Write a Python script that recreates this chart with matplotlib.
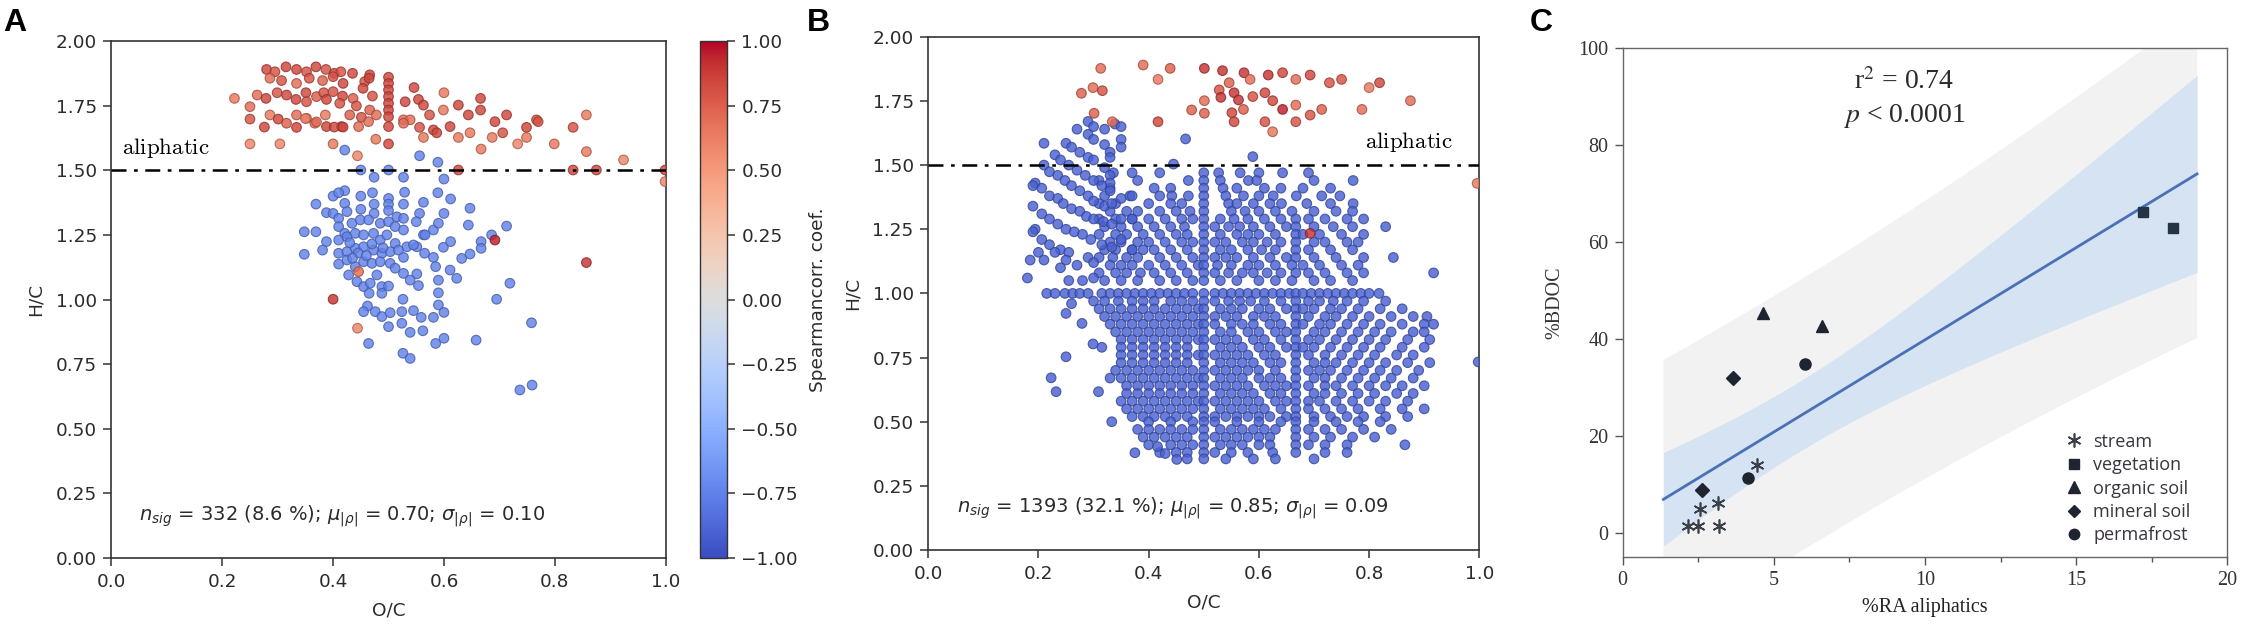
import numpy as np
import matplotlib
matplotlib.use("Agg")
import matplotlib.pyplot as plt
from matplotlib.lines import Line2D
from matplotlib.colors import Normalize
from matplotlib.ticker import MultipleLocator

# ---------------- DATA ----------------
# Panel A: significant positive correlations (O/C, H/C, rho)
a_red = [
    (0.280,1.890,.85),(0.295,1.881,.80),(0.315,1.900,.85),(0.334,1.890,.85),(0.352,1.881,.80),
    (0.369,1.900,.85),(0.387,1.890,.80),(0.402,1.875,.85),(0.414,1.881,.80),(0.435,1.875,.85),
    (0.466,1.869,.85),(0.286,1.856,.70),(0.307,1.847,.80),(0.334,1.836,.70),(0.357,1.856,.80),
    (0.381,1.847,.75),(0.400,1.862,.80),(0.418,1.836,.85),(0.457,1.843,.80),(0.465,1.856,.85),
    (0.500,1.860,.85),(0.500,1.836,.85),(0.222,1.778,.65),(0.263,1.791,.70),(0.279,1.778,.85),
    (0.299,1.800,.80),(0.316,1.791,.85),(0.333,1.774,.85),(0.351,1.800,.85),(0.352,1.765,.80),
    (0.370,1.785,.75),(0.383,1.800,.80),(0.388,1.774,.85),(0.400,1.804,.80),(0.417,1.787,.85),
    (0.412,1.759,.80),(0.436,1.778,.75),(0.442,1.749,.80),(0.454,1.817,.85),(0.471,1.787,.80),
    (0.500,1.811,.85),(0.500,1.785,.85),(0.500,1.759,.85),(0.500,1.733,.85),(0.500,1.707,.85),
    (0.530,1.765,.85),(0.546,1.820,.85),(0.554,1.774,.85),(0.563,1.752,.85),(0.600,1.800,.65),
    (0.626,1.752,.85),(0.666,1.778,.85),(0.666,1.733,.85),(0.250,1.746,.70),(0.250,1.698,.80),
    (0.286,1.714,.65),(0.301,1.698,.85),(0.334,1.714,.70),(0.352,1.701,.70),(0.466,1.733,.75),
    (0.478,1.714,.70),(0.430,1.714,.75),(0.451,1.705,.80),(0.574,1.714,.80),(0.599,1.733,.65),
    (0.644,1.714,.85),(0.713,1.714,.85),(0.857,1.714,.65),(0.767,1.695,.80),(0.527,1.695,.70),
    (0.539,1.695,.70),(0.316,1.682,.75),(0.334,1.666,.85),(0.367,1.682,.70),(0.388,1.669,.85),
    (0.415,1.669,.85),(0.446,1.669,.70),(0.464,1.688,.70),(0.500,1.669,.85),(0.527,1.682,.70),
    (0.556,1.666,.80),(0.581,1.656,.85),(0.587,1.645,.85),(0.611,1.669,.85),(0.626,1.627,.65),
    (0.647,1.645,.65),(0.692,1.688,.85),(0.706,1.645,.80),(0.749,1.666,.85),(0.749,1.627,.65),
    (0.770,1.688,.80),(0.833,1.666,.80),(0.400,1.602,.65),(0.444,1.556,.60),(0.477,1.620,.65),
    (0.500,1.602,.85),(0.563,1.627,.65),(0.667,1.582,.65),(0.687,1.627,.65),(0.733,1.602,.60),
    (0.799,1.602,.65),(0.857,1.572,.65),(0.924,1.540,.60),(0.304,1.602,.60),(0.250,1.602,.60),
    (0.626,1.501,.85),(0.833,1.501,.85),(0.875,1.501,.85),(0.999,1.501,.85),(0.999,1.456,.60),
    (0.692,1.230,.95),(0.400,1.001,.90),(0.444,0.889,.60),(0.446,1.108,.70),(0.857,1.143,.90),
    (0.276,1.667,.85),(0.350,1.700,.60),(0.370,1.687,.70),(0.386,1.714,.65),(0.402,1.667,.85),
    (0.418,1.667,.85),
]
# Panel A: significant negative correlations (O/C, H/C)
a_blue = [
    (0.421,1.578),(0.556,1.556),(0.589,1.531),(0.450,1.501),(0.500,1.501),(0.474,1.473),
    (0.527,1.473),(0.600,1.466),(0.421,1.421),(0.400,1.400),(0.410,1.413),(0.450,1.400),
    (0.471,1.413),(0.500,1.391),(0.529,1.415),(0.589,1.413),(0.612,1.389),(0.369,1.369),
    (0.421,1.372),(0.474,1.369),(0.500,1.369),(0.527,1.369),(0.563,1.376),(0.388,1.336),
    (0.400,1.333),(0.410,1.314),(0.425,1.340),(0.450,1.349),(0.474,1.333),(0.500,1.344),
    (0.515,1.320),(0.527,1.314),(0.556,1.333),(0.600,1.333),(0.647,1.353),(0.348,1.262),
    (0.369,1.262),(0.410,1.282),(0.421,1.256),(0.434,1.295),(0.449,1.308),(0.464,1.308),
    (0.485,1.295),(0.500,1.301),(0.512,1.282),(0.527,1.269),(0.550,1.301),(0.563,1.250),
    (0.581,1.269),(0.590,1.295),(0.644,1.288),(0.713,1.284),(0.388,1.224),(0.410,1.230),
    (0.425,1.243),(0.440,1.256),(0.455,1.250),(0.473,1.256),(0.485,1.230),(0.497,1.250),
    (0.512,1.217),(0.533,1.204),(0.551,1.204),(0.566,1.250),(0.599,1.202),(0.612,1.224),
    (0.667,1.224),(0.686,1.250),(0.348,1.175),(0.381,1.191),(0.410,1.179),(0.425,1.185),
    (0.440,1.198),(0.455,1.204),(0.473,1.191),(0.488,1.179),(0.503,1.185),(0.518,1.191),
    (0.527,1.163),(0.545,1.211),(0.565,1.179),(0.581,1.163),(0.632,1.159),(0.647,1.176),
    (0.667,1.198),(0.410,1.137),(0.425,1.153),(0.440,1.127),(0.455,1.146),(0.470,1.140),
    (0.485,1.146),(0.503,1.140),(0.512,1.121),(0.527,1.101),(0.551,1.099),(0.585,1.127),
    (0.611,1.114),(0.623,1.082),(0.428,1.095),(0.443,1.069),(0.455,1.050),(0.467,1.063),
    (0.479,1.095),(0.488,1.050),(0.500,1.052),(0.539,1.075),(0.554,1.054),(0.590,1.075),
    (0.719,1.063),(0.465,1.024),(0.488,1.024),(0.590,1.026),(0.526,1.001),(0.695,1.001),
    (0.462,0.975),(0.455,0.953),(0.476,0.953),(0.488,0.934),(0.503,0.949),(0.524,0.953),
    (0.545,0.957),(0.559,0.931),(0.581,0.931),(0.590,0.979),(0.600,0.950),(0.758,0.910),
    (0.500,0.895),(0.524,0.908),(0.539,0.873),(0.562,0.879),(0.464,0.830),(0.585,0.830),
    (0.600,0.850),(0.658,0.843),(0.526,0.792),(0.539,0.772),(0.737,0.650),(0.759,0.669),
    (0.430,1.220),(0.445,1.180),(0.460,1.170),(0.470,1.215),(0.435,1.160),(0.490,1.200),
]
a_blue_rho = -0.75

# Panel B: significant positive correlations (O/C, H/C, rho)
b_red = [
    (0.313,1.877,.70),(0.390,1.890,.70),(0.439,1.877,.75),(0.417,1.834,.65),(0.278,1.780,.75),
    (0.299,1.802,.70),(0.316,1.790,.80),(0.301,1.702,.75),(0.334,1.669,.70),(0.417,1.669,.85),
    (0.478,1.715,.75),(0.501,1.751,.70),(0.501,1.702,.75),(0.501,1.877,.90),(0.534,1.868,.90),
    (0.546,1.821,.75),(0.528,1.793,.80),(0.531,1.764,.90),(0.555,1.782,.90),(0.563,1.754,.90),
    (0.551,1.704,.85),(0.555,1.669,.85),(0.573,1.860,.90),(0.584,1.834,.70),(0.617,1.851,.90),
    (0.643,1.860,.85),(0.667,1.834,.70),(0.693,1.851,.85),(0.728,1.821,.80),(0.750,1.834,.80),
    (0.800,1.802,.65),(0.819,1.821,.85),(0.875,1.751,.70),(0.589,1.767,.80),(0.611,1.782,.85),
    (0.625,1.751,.85),(0.572,1.717,.75),(0.643,1.717,.95),(0.667,1.734,.70),(0.693,1.695,.80),
    (0.714,1.717,.75),(0.787,1.717,.70),(0.611,1.669,.80),(0.625,1.630,.65),(0.667,1.669,.80),
    (0.996,1.429,.65),(0.693,1.234,.90),
]
# Panel B: negative correlations, upper-left cluster and outliers (O/C, H/C)
b_blue_left = [
    (0.467,1.602),(0.445,1.504),(0.589,1.533),(0.339,1.660),
    (0.290,1.670),(0.300,1.650),(0.320,1.640),(0.350,1.650),(0.270,1.640),(0.290,1.620),
    (0.300,1.600),(0.320,1.580),(0.330,1.550),(0.350,1.600),(0.350,1.570),(0.330,1.530),
    (0.210,1.585),(0.250,1.585),(0.260,1.570),(0.275,1.550),(0.290,1.530),(0.300,1.520),
    (0.320,1.490),(0.330,1.460),(0.330,1.430),(0.230,1.540),(0.240,1.520),(0.255,1.500),
    (0.270,1.480),(0.285,1.460),(0.300,1.440),(0.315,1.420),(0.330,1.400),(0.210,1.500),
    (0.220,1.474),(0.235,1.460),(0.248,1.440),(0.260,1.420),(0.275,1.400),(0.290,1.380),
    (0.300,1.360),(0.320,1.340),(0.333,1.350),(0.350,1.370),(0.370,1.380),(0.194,1.430),
    (0.206,1.410),(0.220,1.380),(0.235,1.370),(0.245,1.350),(0.260,1.330),(0.275,1.320),
    (0.287,1.300),(0.300,1.290),(0.318,1.280),(0.333,1.270),(0.350,1.290),(0.370,1.290),
    (0.190,1.340),(0.206,1.310),(0.220,1.290),(0.235,1.270),(0.250,1.250),(0.265,1.240),
    (0.280,1.230),(0.295,1.210),(0.315,1.190),(0.333,1.180),(0.350,1.210),(0.370,1.170),
    (0.194,1.250),(0.206,1.210),(0.220,1.190),(0.240,1.170),(0.255,1.160),(0.200,1.160),
    (0.210,1.130),(0.185,1.130),(0.190,1.240),(0.190,1.420),(0.180,1.060),(0.230,1.160),
    (0.250,1.130),(0.270,1.110),(0.290,1.140),(0.300,1.120),(0.255,1.050),(0.280,1.050),
    (0.300,1.060),(0.240,1.100),(0.260,0.960),(0.250,0.922),(0.279,0.883),(0.299,0.803),
    (0.250,0.753),(0.223,0.671),(0.232,0.617),(0.309,0.617),(0.333,0.500),(0.375,0.379),
    (0.416,0.403),(0.451,0.353),(0.430,0.376),(0.998,0.733),
]
# Panel B: negative correlations, main body, rows of (H/C, [O/C ...])
b_blue_rows = [
    (1.47, [0.336,0.37,0.42,0.50,0.527,0.566,0.60,0.643,0.69]),
    (1.44, [0.31,0.38,0.472,0.50,0.53,0.581,0.596,0.70,0.771]),
    (1.41, [0.33,0.41,0.44,0.50,0.535,0.56,0.61,0.64,0.68,0.73]),
    (1.38, [0.32,0.366,0.42,0.442,0.472,0.50,0.54,0.572,0.60,0.626,0.668,0.714,0.747]),
    (1.35, [0.31,0.34,0.40,0.44,0.46,0.50,0.545,0.56,0.59,0.62,0.641,0.687,0.73,0.771]),
    (1.32, [0.33,0.36,0.38,0.42,0.45,0.475,0.50,0.55,0.575,0.60,0.63,0.66,0.70,0.74,0.77]),
    (1.29, [0.31,0.34,0.37,0.40,0.43,0.46,0.48,0.50,0.53,0.555,0.58,0.61,0.64,0.667,0.69,0.72,0.76,0.79]),
    (1.26, [0.32,0.35,0.38,0.41,0.44,0.465,0.50,0.52,0.545,0.565,0.59,0.62,0.65,0.667,0.70,0.735,0.77,0.83]),
    (1.23, [0.31,0.34,0.36,0.39,0.42,0.45,0.47,0.50,0.53,0.56,0.58,0.60,0.63,0.667,0.68,0.71,0.75,0.79]),
    (1.20, [0.33,0.35,0.38,0.40,0.43,0.46,0.48,0.50,0.52,0.54,0.57,0.59,0.615,0.64,0.667,0.70,0.72,0.76,0.78]),
    (1.17, [0.32,0.34,0.37,0.39,0.41,0.44,0.47,0.50,0.53,0.55,0.58,0.605,0.63,0.667,0.69,0.73,0.77]),
    (1.14, [0.31,0.335,0.36,0.38,0.42,0.45,0.48,0.50,0.52,0.54,0.56,0.59,0.62,0.65,0.667,0.70,0.74,0.79,0.844]),
    (1.11, [0.33,0.35,0.37,0.40,0.43,0.46,0.49,0.50,0.525,0.55,0.58,0.60,0.63,0.66,0.68,0.71,0.75,0.78]),
    (1.08, [0.31,0.34,0.36,0.385,0.41,0.44,0.47,0.50,0.52,0.545,0.57,0.59,0.615,0.64,0.667,0.69,0.72,0.76,0.79,0.917]),
    (1.05, [0.32,0.35,0.38,0.42,0.45,0.48,0.50,0.53,0.56,0.60,0.63,0.66,0.70,0.73,0.77]),
    (1.00, [0.215,0.23,0.248,0.262,0.275,0.29,0.315,0.33,0.345,0.36,0.375,0.39,0.405,0.42,0.435,
            0.45,0.465,0.48,0.50,0.52,0.535,0.55,0.565,0.58,0.595,0.61,0.625,0.64,0.655,0.667,
            0.68,0.695,0.71,0.725,0.74,0.755,0.77,0.785,0.80,0.818]),
    (0.97, [0.30,0.32,0.345,0.37,0.39,0.41,0.44,0.46,0.48,0.50,0.52,0.545,0.565,0.585,0.61,0.64,0.667,0.69,0.71,0.735,0.76,0.79,0.83]),
    (0.94, [0.31,0.33,0.35,0.37,0.39,0.41,0.43,0.45,0.47,0.49,0.50,0.53,0.55,0.57,0.60,0.62,0.65,0.667,0.68,0.70,0.73,0.75,0.78,0.82,0.86]),
    (0.91, [0.32,0.34,0.36,0.38,0.40,0.42,0.44,0.46,0.48,0.50,0.52,0.54,0.56,0.59,0.61,0.63,0.667,0.69,0.72,0.74,0.77,0.80,0.84,0.88,0.905]),
    (0.88, [0.33,0.35,0.37,0.39,0.41,0.43,0.45,0.47,0.49,0.50,0.52,0.55,0.57,0.59,0.62,0.64,0.667,0.68,0.71,0.73,0.76,0.79,0.82,0.86,0.90,0.917]),
    (0.85, [0.34,0.36,0.38,0.40,0.42,0.44,0.46,0.48,0.50,0.53,0.55,0.58,0.60,0.63,0.65,0.667,0.70,0.72,0.75,0.78,0.81,0.84,0.88,0.90]),
    (0.82, [0.35,0.37,0.39,0.41,0.43,0.45,0.47,0.49,0.50,0.52,0.54,0.56,0.59,0.61,0.64,0.667,0.69,0.71,0.74,0.77,0.80,0.83,0.87,0.91]),
    (0.79, [0.315,0.35,0.37,0.39,0.41,0.43,0.45,0.47,0.50,0.53,0.55,0.57,0.60,0.62,0.65,0.667,0.68,0.70,0.73,0.76,0.79,0.82,0.86,0.90]),
    (0.76, [0.35,0.37,0.39,0.41,0.43,0.45,0.47,0.49,0.50,0.52,0.54,0.56,0.58,0.61,0.63,0.667,0.69,0.72,0.75,0.78,0.81,0.85,0.88]),
    (0.73, [0.35,0.37,0.39,0.41,0.43,0.45,0.47,0.50,0.53,0.55,0.57,0.59,0.62,0.64,0.667,0.70,0.72,0.74,0.77,0.80,0.83,0.87,0.91]),
    (0.70, [0.34,0.36,0.38,0.40,0.42,0.44,0.46,0.48,0.50,0.52,0.54,0.56,0.58,0.60,0.63,0.667,0.69,0.71,0.73,0.76,0.79,0.82,0.85,0.89]),
    (0.67, [0.33,0.35,0.37,0.39,0.41,0.43,0.45,0.47,0.49,0.50,0.53,0.55,0.57,0.60,0.62,0.64,0.667,0.70,0.72,0.75,0.78,0.81,0.84,0.88]),
    (0.64, [0.36,0.38,0.40,0.42,0.44,0.46,0.48,0.50,0.52,0.54,0.56,0.58,0.61,0.63,0.65,0.667,0.69,0.72,0.74,0.77,0.80,0.83,0.86,0.90]),
    (0.61, [0.36,0.38,0.40,0.42,0.44,0.46,0.48,0.50,0.53,0.55,0.57,0.59,0.62,0.64,0.667,0.70,0.72,0.75,0.78,0.81,0.85,0.88]),
    (0.58, [0.35,0.37,0.39,0.41,0.43,0.45,0.47,0.49,0.50,0.52,0.54,0.56,0.58,0.60,0.63,0.65,0.667,0.69,0.71,0.74,0.77,0.80,0.83,0.87]),
    (0.55, [0.36,0.38,0.40,0.42,0.44,0.46,0.48,0.50,0.53,0.55,0.57,0.59,0.61,0.64,0.667,0.69,0.72,0.75,0.78,0.82,0.86,0.90]),
    (0.52, [0.37,0.39,0.41,0.43,0.45,0.47,0.50,0.52,0.54,0.56,0.58,0.60,0.62,0.65,0.667,0.70,0.73,0.76,0.79,0.83,0.87]),
    (0.50, [0.40,0.44,0.48,0.50,0.52,0.56,0.60,0.64,0.667,0.70,0.74,0.78,0.82]),
    (0.47, [0.38,0.40,0.42,0.44,0.46,0.48,0.50,0.53,0.55,0.57,0.59,0.61,0.63,0.667,0.69,0.72,0.75,0.79,0.84]),
    (0.44, [0.39,0.41,0.43,0.45,0.47,0.50,0.52,0.54,0.56,0.58,0.60,0.62,0.667,0.70,0.73,0.77,0.81]),
    (0.41, [0.40,0.44,0.46,0.48,0.50,0.53,0.55,0.57,0.60,0.62,0.667,0.69,0.72,0.76,0.865]),
    (0.38, [0.42,0.45,0.47,0.50,0.52,0.55,0.58,0.625,0.667,0.72,0.76]),
    (0.355, [0.47,0.50,0.54,0.59,0.63,0.70]),
]
b_blue_rho = -0.9

# Panel C: %RA aliphatics vs %BDOC by sample type
stream_x = [4.43, 2.55, 3.16, 2.17, 2.50, 3.19]
stream_y = [14.0, 5.0, 6.2, 1.4, 1.4, 1.4]
veg_x = [17.22, 18.22]
veg_y = [66.2, 62.9]
org_x = [4.65, 6.59]
org_y = [45.3, 42.7]
min_x = [3.66, 2.64]
min_y = [32.0, 8.9]
perm_x = [6.04, 4.16]
perm_y = [34.8, 11.3]
band_x_range = (1.35, 19.0)
t_crit = 2.179  # t(0.975, df=12)

# ---------------- FIGURE ----------------
plt.rcParams['font.family'] = ['DejaVu Sans']
dark = '#2b2b2b'
plt.rcParams.update({
    'text.color': dark, 'axes.labelcolor': dark, 'axes.edgecolor': '#333333',
    'xtick.color': '#333333', 'ytick.color': '#333333',
    'xtick.labelcolor': dark, 'ytick.labelcolor': dark,
})

fig = plt.figure(figsize=(22.53, 6.27), dpi=100)
cmap = plt.get_cmap('coolwarm')
norm = Normalize(-1, 1)

def scatter_pts(ax, xs, ys, vals):
    fc = cmap(norm(np.asarray(vals, dtype=float)))
    ec = fc.copy()
    ec[:, :3] *= 0.7
    ax.scatter(xs, ys, s=48, c=fc, edgecolors=ec, linewidths=0.8, alpha=0.82, zorder=3)

def style_vk(ax):
    ax.set_xlim(0, 1)
    ax.set_ylim(0, 2)
    ax.set_xticks(np.arange(0, 1.01, 0.2))
    ax.set_yticks(np.arange(0, 2.01, 0.25))
    ax.tick_params(labelsize=13.3, length=6, width=1.1, pad=4.5)
    for sp in ax.spines.values():
        sp.set_linewidth(1.2)
    ax.set_xlabel('O/C', fontsize=13.3, labelpad=8)
    ax.set_ylabel('H/C', fontsize=13.3, labelpad=8)
    ax.axhline(1.5, color='black', lw=1.8, ls=(0, (6, 3, 1.5, 3)), zorder=4)

# ---- Panel A ----
axA = fig.add_axes([0.04945, 0.1100, 0.2460, 0.8246])
style_vk(axA)
ax_, ay_ = zip(*a_blue)
scatter_pts(axA, ax_, ay_, [a_blue_rho] * len(ax_))
rx, ry, rv = zip(*a_red)
scatter_pts(axA, rx, ry, rv)
axA.text(0.02, 1.586, r'$\mathrm{aliphatic}$', fontsize=16.5, math_fontfamily='cm',
         va='center', ha='left', color='black', zorder=5)
axA.text(0.05, 0.163, r'$n_{sig}$ = 332 (8.6 %); $\mu_{|\rho|}$ = 0.70; $\sigma_{|\rho|}$ = 0.10',
         fontsize=14, va='center', ha='left')

cax = fig.add_axes([0.3107, 0.1100, 0.01185, 0.8246])
sm = matplotlib.cm.ScalarMappable(norm=norm, cmap=cmap)
cb = fig.colorbar(sm, cax=cax)
cb.set_ticks(np.arange(-1, 1.01, 0.25))
cb.ax.tick_params(labelsize=13.3, length=6, width=1.1, pad=4.5)
cb.outline.set_linewidth(1.0)
cb.set_label('Spearmancorr. coef.', fontsize=13.3, labelpad=8)

# ---- Panel B ----
axB = fig.add_axes([0.4120, 0.1228, 0.2446, 0.8185])
style_vk(axB)
bx, by = [], []
for hc, ocs in b_blue_rows:
    for oc in ocs:
        bx.append(oc)
        by.append(hc)
lx, ly = zip(*b_blue_left)
bx += list(lx)
by += list(ly)
scatter_pts(axB, bx, by, [b_blue_rho] * len(bx))
brx, bry, brv = zip(*b_red)
scatter_pts(axB, brx, bry, brv)
axB.text(0.952, 1.59, r'$\mathrm{aliphatic}$', fontsize=16.5, math_fontfamily='cm',
         va='center', ha='right', color='black', zorder=5)
axB.text(0.052, 0.164, r'$n_{sig}$ = 1393 (32.1 %); $\mu_{|\rho|}$ = 0.85; $\sigma_{|\rho|}$ = 0.09',
         fontsize=14, va='center', ha='left')

# ---- Panel C ----
serif = 'Liberation Serif'
axC = fig.add_axes([0.7202, 0.1116, 0.2684, 0.8118])
all_x = np.array(stream_x + veg_x + org_x + min_x + perm_x)
all_y = np.array(stream_y + veg_y + org_y + min_y + perm_y)
n = len(all_x)
slope, intercept = np.polyfit(all_x, all_y, 1)
resid = all_y - (slope * all_x + intercept)
s_err = np.sqrt(np.sum(resid ** 2) / (n - 2))
sxx = np.sum((all_x - all_x.mean()) ** 2)
xx = np.linspace(band_x_range[0], band_x_range[1], 200)
yy = slope * xx + intercept
ci = t_crit * s_err * np.sqrt(1.0 / n + (xx - all_x.mean()) ** 2 / sxx)
pi = t_crit * s_err * np.sqrt(1 + 1.0 / n + (xx - all_x.mean()) ** 2 / sxx)
axC.fill_between(xx, yy - pi, yy + pi, color='#f2f2f2', lw=0, zorder=1)
axC.fill_between(xx, yy - ci, yy + ci, color='#d5e3f3', lw=0, zorder=2)
axC.plot(xx, yy, color='#4a70b5', lw=2.0, zorder=3)

mk_col = '#1e2430'
axC.plot(stream_x, stream_y, ls='none', marker=(6, 2, 0), ms=10, mew=1.2, color='#3a3f48', zorder=4)
axC.plot(veg_x, veg_y, ls='none', marker='s', ms=7, color='#253444', zorder=4)
axC.plot(org_x, org_y, ls='none', marker='^', ms=8.5, color=mk_col, zorder=4)
axC.plot(min_x, min_y, ls='none', marker='D', ms=7, color=mk_col, zorder=4)
axC.plot(perm_x, perm_y, ls='none', marker='o', ms=8, color=mk_col, zorder=4)

axC.set_xlim(0, 20)
axC.set_ylim(-5, 100)
axC.set_xticks([0, 5, 10, 15, 20])
axC.xaxis.set_minor_locator(MultipleLocator(2.5))
axC.set_yticks([0, 20, 40, 60, 80, 100])
for lab in axC.get_xticklabels() + axC.get_yticklabels():
    lab.set_fontfamily(serif)
axC.tick_params(which='major', labelsize=14.5, length=6, width=1.0, colors='#555555',
                labelcolor='#333333', pad=4)
axC.tick_params(which='minor', length=3.5, width=1.0, colors='#555555')
for sp in axC.spines.values():
    sp.set_color('#666666')
    sp.set_linewidth(1.0)
axC.set_xlabel('%RA aliphatics', fontsize=14.5, family=serif, color='#222222', labelpad=6)
axC.set_ylabel('%BDOC', fontsize=14.5, family=serif, color='#333333', labelpad=10)
axC.text(9.3, 93.0, r'r$^2$ = 0.74', fontsize=20, family=serif, ha='center', va='center',
         math_fontfamily='stix')
axC.text(9.3, 86.0, r'$p$ < 0.0001', fontsize=20, family=serif, ha='center', va='center',
         math_fontfamily='stix')

handles = [
    Line2D([], [], ls='none', marker=(6, 2, 0), ms=10, mew=1.2, color='#3a3f48'),
    Line2D([], [], ls='none', marker='s', ms=6.5, color=mk_col),
    Line2D([], [], ls='none', marker='^', ms=8, color=mk_col),
    Line2D([], [], ls='none', marker='D', ms=6.5, color=mk_col),
    Line2D([], [], ls='none', marker='o', ms=7.5, color=mk_col),
]
labels = ['stream', 'vegetation', 'organic soil', 'mineral soil', 'permafrost']
leg = axC.legend(handles, labels, loc='lower left', bbox_to_anchor=(0.71, 0.0),
                 frameon=False, prop={'family': 'Open Sans', 'size': 13},
                 handlelength=1.0, handletextpad=0.6, labelspacing=0.3, borderaxespad=0.3)
for t in leg.get_texts():
    t.set_color('#3a3340')

# Panel letters
for lx_, letter in [(0.0013, 'A'), (0.3582, 'B'), (0.6791, 'C')]:
    fig.text(lx_, 0.988, letter, fontsize=23, fontweight='bold', family='Liberation Sans',
             va='top', ha='left', color='black')

fig.savefig('out.png', dpi=100)
